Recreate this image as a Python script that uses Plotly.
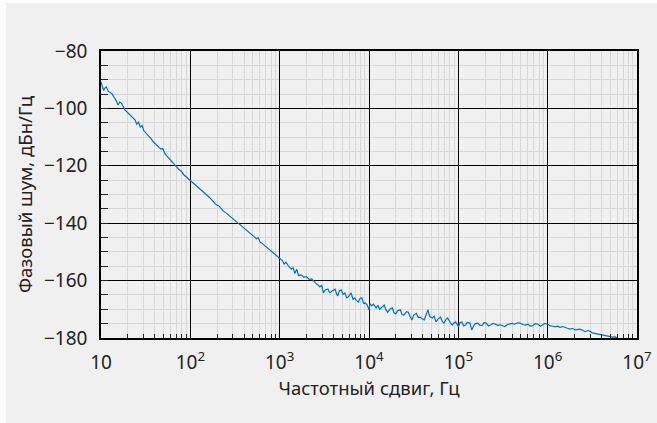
import plotly.graph_objects as go

log_freq = [
    1.00, 1.02, 1.03, 1.04, 1.06, 1.08, 1.10, 1.12, 1.15, 1.17, 1.19, 1.21, 1.23, 1.25, 1.27,
    1.30, 1.33, 1.36, 1.38, 1.40, 1.42, 1.44, 1.46, 1.48, 1.50, 1.53, 1.56, 1.59, 1.62, 1.65,
    1.67, 1.69, 1.72, 1.75, 1.78, 1.81, 1.84, 1.87, 1.90, 1.93, 1.96, 2.00,
    2.04, 2.08, 2.11, 2.14, 2.17, 2.20, 2.23, 2.26, 2.29, 2.32, 2.34, 2.37, 2.40, 2.43, 2.46,
    2.50, 2.53, 2.56, 2.59, 2.62, 2.65, 2.68, 2.71, 2.74, 2.76, 2.78, 2.81, 2.84, 2.87, 2.90,
    2.93, 2.96, 3.00,
    3.03, 3.05, 3.07, 3.10, 3.13, 3.15, 3.17, 3.19, 3.21, 3.24, 3.27, 3.30, 3.33, 3.36, 3.38,
    3.40, 3.43, 3.45, 3.47, 3.49, 3.51, 3.54, 3.56, 3.59, 3.62, 3.64, 3.65, 3.67, 3.69, 3.71,
    3.73, 3.75, 3.77, 3.80, 3.82, 3.84, 3.86, 3.88, 3.90, 3.92, 3.94, 3.96, 3.98, 4.00,
    4.01, 4.03, 4.05, 4.08, 4.10, 4.12, 4.15, 4.17, 4.19, 4.21, 4.24, 4.26, 4.28, 4.30, 4.32,
    4.35, 4.37, 4.39, 4.42, 4.44, 4.46, 4.48, 4.50, 4.53, 4.55, 4.57, 4.59, 4.62, 4.64, 4.66,
    4.68, 4.71, 4.73, 4.75, 4.77, 4.80, 4.82, 4.84, 4.86, 4.88, 4.91, 4.93, 4.95, 4.97, 5.00,
    5.02, 5.04, 5.06, 5.08, 5.10, 5.13, 5.15, 5.17, 5.19, 5.22, 5.24, 5.27, 5.29, 5.31, 5.34,
    5.36, 5.39, 5.41, 5.44, 5.47, 5.50, 5.52, 5.55, 5.58, 5.60, 5.63, 5.66, 5.69, 5.72, 5.75,
    5.78, 5.80, 5.83, 5.86, 5.89, 5.92, 5.94, 5.97, 6.00,
    6.03, 6.06, 6.08, 6.11, 6.14, 6.17, 6.19, 6.22, 6.25, 6.28, 6.31, 6.34, 6.36, 6.39, 6.42,
    6.45, 6.47, 6.50, 6.53, 6.56, 6.59, 6.62, 6.64, 6.67, 6.70, 6.73, 6.76, 6.78,
]
phase_noise = [
    -90.8, -92.5, -93.8, -93.0, -92.5, -94.0, -94.5, -94.8, -96.3, -97.3, -98.8, -97.8, -98.3, -99.5, -100.6,
    -101.5, -102.5, -103.2, -104.0, -105.5, -104.8, -106.5, -106.0, -107.8, -108.4, -109.6, -110.5, -111.8, -112.6, -113.5,
    -114.2, -114.0, -116.0, -117.0, -118.2, -119.0, -120.2, -121.2, -122.0, -123.2, -124.0, -125.0,
    -126.0, -127.2, -128.0, -128.8, -129.7, -130.6, -131.5, -132.5, -133.6, -134.0, -134.8, -135.8, -136.4, -137.2, -138.0,
    -139.0, -140.0, -140.7, -141.5, -142.3, -143.0, -143.8, -144.5, -145.4, -145.0, -146.5, -147.2, -148.0, -148.8, -149.5,
    -150.4, -151.2, -152.0,
    -153.0, -154.2, -153.6, -155.0, -156.0, -155.5, -157.5, -156.0, -158.2, -158.0, -158.8, -158.6, -159.6, -159.4, -160.3,
    -160.8, -161.5, -162.2, -161.6, -164.3, -163.3, -162.9, -164.2, -163.6, -163.0, -164.8, -165.3, -163.5, -163.3, -164.8,
    -164.3, -166.0, -165.6, -164.3, -166.5, -166.0, -167.0, -167.5, -166.2, -166.0, -168.0, -167.8, -168.5, -170.2,
    -168.0, -168.8, -168.2, -169.5, -168.6, -170.0, -169.2, -168.5, -170.2, -171.0, -169.8, -169.5, -171.2, -171.6, -170.5,
    -170.2, -171.8, -172.0, -170.8, -171.0, -172.5, -173.7, -172.0, -171.4, -172.8, -172.7, -173.2, -173.7, -171.8, -170.2,
    -172.5, -173.0, -172.4, -174.4, -173.5, -172.7, -174.2, -174.8, -173.6, -173.0, -174.6, -175.5, -174.8, -174.4, -176.0,
    -174.6, -174.4, -175.8, -175.5, -174.6, -174.8, -177.2, -175.8, -175.0, -174.8, -175.6, -175.5, -174.6, -174.8, -175.8,
    -175.5, -174.9, -175.1, -175.6, -175.4, -175.8, -176.0, -175.3, -175.2, -174.9, -175.2, -174.7, -174.8, -175.3, -175.5,
    -175.2, -175.8, -175.8, -175.0, -175.2, -175.9, -175.6, -174.9, -175.2,
    -175.8, -175.9, -176.1, -175.9, -176.3, -176.0, -176.3, -176.6, -176.9, -176.7, -177.2, -177.0, -176.9, -177.3, -177.8,
    -177.4, -177.6, -178.2, -178.4, -178.5, -178.7, -178.8, -179.0, -179.2, -179.4, -179.7, -179.6, -180.2,
]
freq = [10 ** e for e in log_freq]

x_tick_vals = [1e1, 1e2, 1e3, 1e4, 1e5, 1e6, 1e7]
x_tick_text = ["10", "10<sup>2</sup>", "10<sup>3</sup>", "10<sup>4</sup>",
               "10<sup>5</sup>", "10<sup>6</sup>", "10<sup>7</sup>"]
x_minor_vals = [m * 10 ** e for e in range(1, 7) for m in range(2, 10)]
y_tick_vals = [-180, -160, -140, -120, -100, -80]
y_minor_vals = list(range(-175, -80, 5))

x_title = "Частотный сдвиг, Гц"
y_title = "Фазовый шум, дБн/Гц"

BG = "#f0f0f0"
FONT = "Noto Sans"

fig = go.Figure()
fig.add_trace(go.Scatter(
    x=freq, y=phase_noise, mode="lines",
    line=dict(color="#0072bd", width=1.2),
    showlegend=False, hoverinfo="skip",
))

fig.add_shape(type="rect", xref="paper", yref="paper",
              x0=-95 / 536, x1=560 / 536, y0=-90 / 287, y1=335 / 287,
              fillcolor=BG, line=dict(width=0), layer="below")

fig.update_layout(
    width=657, height=423,
    margin=dict(l=101, r=20, t=51, b=85, autoexpand=False),
    paper_bgcolor="white",
    plot_bgcolor=BG,
    font=dict(family=FONT, size=19, color="#222222"),
    xaxis=dict(
        type="log", range=[1, 7],
        tickmode="array", tickvals=x_tick_vals, ticktext=x_tick_text,
        ticks="", showgrid=True, gridcolor="#000000", gridwidth=1,
        showline=True, linecolor="#000000", linewidth=1.5, mirror=True,
        zeroline=False, ticklabelstandoff=6,
        tickfont=dict(size=19),
        minor=dict(tickmode="array", tickvals=x_minor_vals, ticks="inside",
                   ticklen=4, tickcolor="#222222", tickwidth=1,
                   showgrid=True, gridcolor="#d7d7d7", gridwidth=1),
        title=dict(text=x_title, font=dict(size=18.5), standoff=8),
    ),
    yaxis=dict(
        range=[-180, -80],
        tickmode="array", tickvals=y_tick_vals,
        ticks="", showgrid=True, gridcolor="#000000", gridwidth=1,
        showline=True, linecolor="#000000", linewidth=1.5, mirror=True,
        zeroline=False, ticklabelstandoff=8,
        tickfont=dict(size=19),
        minor=dict(tickmode="array", tickvals=y_minor_vals, ticks="inside",
                   ticklen=7, tickcolor="#222222", tickwidth=1,
                   showgrid=True, gridcolor="#d7d7d7", gridwidth=1),
        title=dict(text=y_title, font=dict(size=18.5), standoff=6),
    ),
)

fig.write_html("out.html", config={"displayModeBar": False},
               post_script="document.body.style.margin='0';")
